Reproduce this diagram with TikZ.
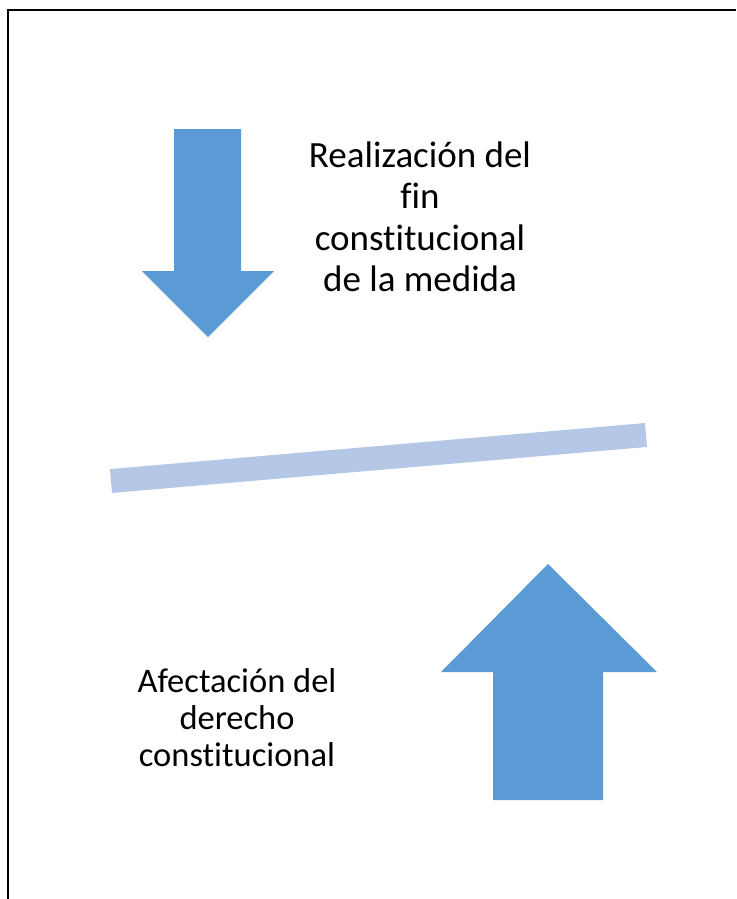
\documentclass[tikz,border=0pt]{standalone}
\usepackage{fontspec}
\setmainfont{Carlito}[Ligatures=NoCommon]
\usepackage{xcolor}
\usetikzlibrary{calc,positioning}

\definecolor{arrowblue}{HTML}{5B9BD5}
\definecolor{barblue}{HTML}{B4C7E7}

\begin{document}
\begin{tikzpicture}[x=1pt,y=-1pt]

\useasboundingbox (0,0) rectangle (736,899);

\tikzstyle{mytext} = [align=center, inner sep=0pt]
\tikzstyle{myarrow} = [fill=arrowblue, draw=none]

% frame (cut off on right and bottom)
\draw [black,line width=2pt] (8,899) -- (8,10) -- (736,10);

% down arrow
\fill [myarrow] (174,129) -- (241,129) -- (241,271) -- (274,271) -- (208,337)
  -- (142,271) -- (174,271) -- cycle;
\node (fin) [mytext,font=\fontsize{37}{41.5}\selectfont] at (420,217)
  {Realizaci\'on del\\fin\\constitucional\\de la medida};

% balance bar
\coordinate (barl) at (111,481);
\coordinate (barr) at (646,435);
\draw [barblue,line width=24pt] (barl) -- (barr);

% up arrow
\fill [myarrow] (493,800) -- (603,800) -- (603,672) -- (657,672) -- (548,564)
  -- (441,672) -- (493,672) -- cycle;
\node (derecho) [mytext,font=\fontsize{34.5}{37}\selectfont] at (237,718)
  {Afectaci\'on del\\derecho\\constitucional};

\end{tikzpicture}
\end{document}
